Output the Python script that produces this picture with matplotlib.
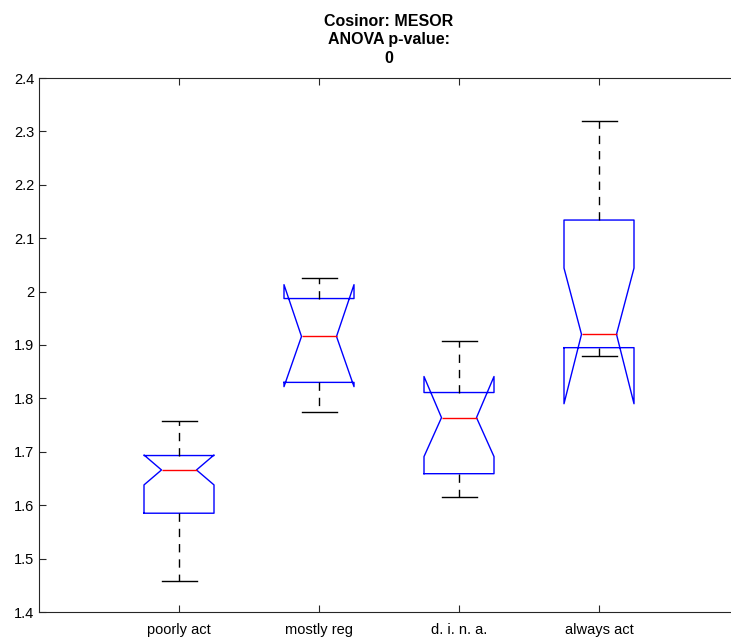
import matplotlib
matplotlib.use("Agg")
import matplotlib.pyplot as plt

plt.rcParams['font.family'] = ['Liberation Sans', 'DejaVu Sans']

labels = ['poorly act', 'mostly reg', 'd. i. n. a.', 'always act']
medians = [1.666, 1.916, 1.764, 1.920]
q1 = [1.585, 1.830, 1.659, 1.895]
q3 = [1.693, 1.987, 1.811, 2.134]
whisker_lo = [1.458, 1.775, 1.616, 1.880]
whisker_hi = [1.758, 2.025, 1.907, 2.319]
notch_lo = [1.638, 1.822, 1.691, 1.790]
notch_hi = [1.694, 2.013, 1.841, 2.044]

stats = []
for i in range(len(labels)):
    stats.append({'label': labels[i], 'med': medians[i], 'q1': q1[i], 'q3': q3[i],
                  'whislo': whisker_lo[i], 'whishi': whisker_hi[i],
                  'cilo': notch_lo[i], 'cihi': notch_hi[i], 'fliers': []})

fig = plt.figure(figsize=(7.31, 6.4), dpi=100)
ax = fig.add_axes([39 / 731, 28 / 640, 700 / 731, 534 / 640])

ax.bxp(stats, positions=[1, 2, 3, 4], widths=0.5, shownotches=True, showfliers=False,
       boxprops=dict(color='blue', linewidth=1),
       medianprops=dict(color='red', linewidth=1),
       whiskerprops=dict(color='black', linestyle=(0, (6, 5)), linewidth=1),
       capprops=dict(color='black', linewidth=1),
       capwidths=0.25)

ax.set_xlim(0, 5)
ax.set_ylim(1.4, 2.4)
ax.set_yticks([1.4, 1.5, 1.6, 1.7, 1.8, 1.9, 2.0, 2.1, 2.2, 2.3, 2.4])
ax.set_yticklabels(['1.4', '1.5', '1.6', '1.7', '1.8', '1.9', '2', '2.1', '2.2', '2.3', '2.4'])
ax.set_xticks([1, 2, 3, 4])
ax.set_xticklabels(labels)
ax.tick_params(direction='in', length=5, width=0.8, labelsize=10.5, top=True, right=True,
               colors='#262626', labelcolor='black')
ax.tick_params(axis='x', pad=8)
for s in ax.spines.values():
    s.set_color('#262626')
    s.set_linewidth(0.8)

ax.set_title('Cosinor: MESOR\nANOVA p-value:\n0', fontsize=11.5, fontweight='bold',
             linespacing=1.3, pad=11)

fig.savefig('out.png', dpi=100)
